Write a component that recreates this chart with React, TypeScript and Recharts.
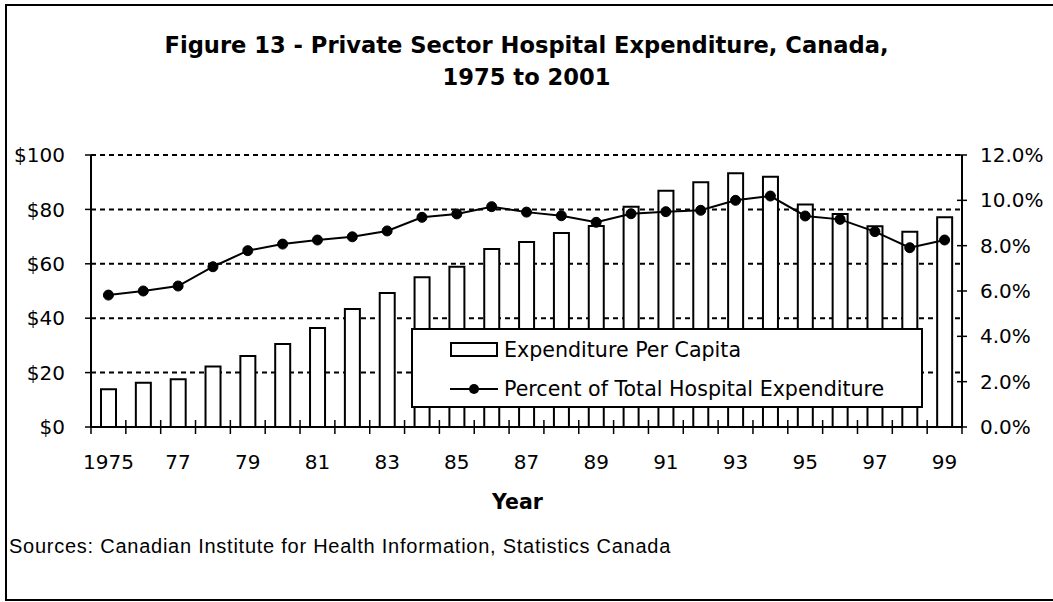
import React from 'react';
import { ComposedChart, Bar, Line, XAxis, YAxis, CartesianGrid, Legend } from 'recharts';

const years = [
  '1975', '1976', '1977', '1978', '1979', '1980', '1981', '1982', '1983', '1984',
  '1985', '1986', '1987', '1988', '1989', '1990', '1991', '1992', '1993', '1994',
  '1995', '1996', '1997', '1998', '1999',
];

// dollars per capita (left axis)
const perCapita = [
  13.9, 16.3, 17.6, 22.2, 26.1, 30.5, 36.4, 43.4, 49.3, 55.1,
  58.9, 65.4, 68.0, 71.3, 73.9, 81.0, 86.9, 90.0, 93.3, 92.0,
  81.8, 78.3, 73.8, 71.8, 77.1,
];

// percent of total hospital expenditure (right axis)
const percentShare = [
  5.82, 6.0, 6.22, 7.07, 7.78, 8.07, 8.25, 8.39, 8.65, 9.25,
  9.4, 9.72, 9.48, 9.32, 9.03, 9.41, 9.5, 9.56, 10.0, 10.19,
  9.31, 9.16, 8.62, 7.91, 8.25,
];

const dollarTicks = [0, 20, 40, 60, 80, 100];
const percentTicks = [0, 2, 4, 6, 8, 10, 12];

const data = years.map((year, i) => ({
  year,
  perCapita: perCapita[i],
  percentShare: percentShare[i],
}));

const W = 1053;
const H = 602;
const PLOT_LEFT = 91;
const PLOT_RIGHT = 962;
const PLOT_TOP = 155;
const PLOT_BOTTOM = 427;
const BAND = (PLOT_RIGHT - PLOT_LEFT) / years.length;

const FONT = '"DejaVu Sans", Tahoma, sans-serif';

const YearTick = (props: any) => {
  const { x, y, payload, index } = props;
  const last = index === years.length - 1;
  const label = index === 0 ? payload.value : String(payload.value).slice(2);
  return (
    <g>
      <line x1={x - BAND / 2} x2={x - BAND / 2} y1={y - 7} y2={y + 7} stroke="#000" strokeWidth={1.5} />
      {last && (
        <line x1={x + BAND / 2} x2={x + BAND / 2} y1={y - 7} y2={y + 7} stroke="#000" strokeWidth={1.5} />
      )}
      {index % 2 === 0 && (
        <text x={x} y={y + 42} textAnchor="middle" fontFamily={FONT} fontSize={20} fill="#000">
          {label}
        </text>
      )}
    </g>
  );
};

const PercentTick = (props: any) => {
  const { x, y, payload } = props;
  return (
    <g>
      <line x1={x - 5} x2={x + 5} y1={y} y2={y} stroke="#000" strokeWidth={1.5} />
      <text x={x + 18} y={y} dy={7} textAnchor="start" fontFamily={FONT} fontSize={20} fill="#000">
        {`${Number(payload.value).toFixed(1)}%`}
      </text>
    </g>
  );
};

const renderLegend = (props: any) => {
  const items = props.payload || [];
  return (
    <div
      style={{
        width: 512,
        height: 80,
        boxSizing: 'border-box',
        border: '2px solid #000',
        background: '#fff',
        fontFamily: FONT,
        fontSize: 20.6,
        color: '#000',
        paddingLeft: 37,
        paddingTop: 0,
      }}
    >
      {items.map((entry: any) => (
        <div key={entry.value} style={{ display: 'flex', alignItems: 'center', height: 39, whiteSpace: 'nowrap' }}>
          {entry.type === 'rect' ? (
            <svg width={48} height={16} style={{ display: 'block' }}>
              <rect x={1} y={1} width={46} height={13} fill="#fff" stroke="#000" strokeWidth={2} />
            </svg>
          ) : (
            <svg width={48} height={16} style={{ display: 'block' }}>
              <line x1={0} x2={48} y1={8} y2={8} stroke="#000" strokeWidth={2} />
              <circle cx={24} cy={8} r={5} fill="#000" />
            </svg>
          )}
          <span style={{ marginLeft: 6 }}>{entry.value}</span>
        </div>
      ))}
    </div>
  );
};

export default function App() {
  return (
    <div style={{ position: 'absolute', left: 0, top: 0, width: W, height: H, background: '#fff', overflow: 'hidden' }}>
      <div
        style={{
          position: 'absolute',
          left: 5,
          top: 4,
          width: 1070,
          height: 597,
          boxSizing: 'border-box',
          border: '2px solid #000',
        }}
      />
      <div
        style={{
          position: 'absolute',
          left: 0,
          top: 29,
          width: W,
          textAlign: 'center',
          fontFamily: FONT,
          fontWeight: 'bold',
          fontSize: 22.6,
          lineHeight: '32px',
          color: '#000',
        }}
      >
        Figure 13 - Private Sector Hospital Expenditure, Canada,
        <br />
        1975 to 2001
      </div>
      <div style={{ position: 'absolute', left: 0, top: 0 }}>
        <ComposedChart
          width={W}
          height={H}
          data={data}
          margin={{ top: PLOT_TOP, left: 0, right: 0, bottom: H - PLOT_BOTTOM - 90 }}
        >
          <CartesianGrid
            yAxisId="left"
            vertical={false}
            stroke="#000"
            strokeWidth={2}
            strokeDasharray="5 4"
          />
          <XAxis
            dataKey="year"
            interval={0}
            height={90}
            tickSize={0}
            tickMargin={0}
            tickLine={false}
            axisLine={{ stroke: '#000', strokeWidth: 2 }}
            tick={<YearTick />}
            label={{
              value: 'Year',
              position: 'insideBottom',
              offset: 8,
              fill: '#000',
              fontFamily: FONT,
              fontWeight: 'bold',
              fontSize: 20.5,
              dx: -9,
            }}
          />
          <YAxis
            yAxisId="left"
            width={PLOT_LEFT}
            domain={[0, 100]}
            ticks={dollarTicks}
            interval={0}
            tickSize={6}
            tickMargin={20}
            tickFormatter={(v: number) => `$${v}`}
            axisLine={{ stroke: '#000', strokeWidth: 2 }}
            tickLine={{ stroke: '#000', strokeWidth: 1.5 }}
            tick={{ fill: '#000', fontFamily: FONT, fontSize: 20 }}
          />
          <YAxis
            yAxisId="right"
            orientation="right"
            width={W - PLOT_RIGHT}
            domain={[0, 12]}
            ticks={percentTicks}
            interval={0}
            tickSize={0}
            tickMargin={0}
            tickLine={false}
            axisLine={{ stroke: '#000', strokeWidth: 2 }}
            tick={<PercentTick />}
          />
          <Legend
            layout="vertical"
            align="center"
            verticalAlign="middle"
            content={renderLegend}
            wrapperStyle={{ left: 411, top: 328, width: 512, height: 80 }}
          />
          <Bar
            yAxisId="left"
            dataKey="perCapita"
            name="Expenditure Per Capita"
            fill="#fff"
            stroke="#000"
            strokeWidth={2}
            barSize={15}
            isAnimationActive={false}
          />
          <Line
            yAxisId="right"
            dataKey="percentShare"
            name="Percent of Total Hospital Expenditure"
            type="linear"
            stroke="#000"
            strokeWidth={2}
            dot={{ r: 5, fill: '#000', stroke: '#000', strokeWidth: 1 }}
            isAnimationActive={false}
          />
        </ComposedChart>
      </div>
      <div
        style={{
          position: 'absolute',
          left: 9,
          top: 534,
          fontFamily: '"Liberation Sans", Arial, sans-serif',
          fontSize: 20,
          letterSpacing: 0.75,
          lineHeight: '24px',
          color: '#000',
          whiteSpace: 'nowrap',
        }}
      >
        Sources: Canadian Institute for Health Information, Statistics Canada
      </div>
    </div>
  );
}
